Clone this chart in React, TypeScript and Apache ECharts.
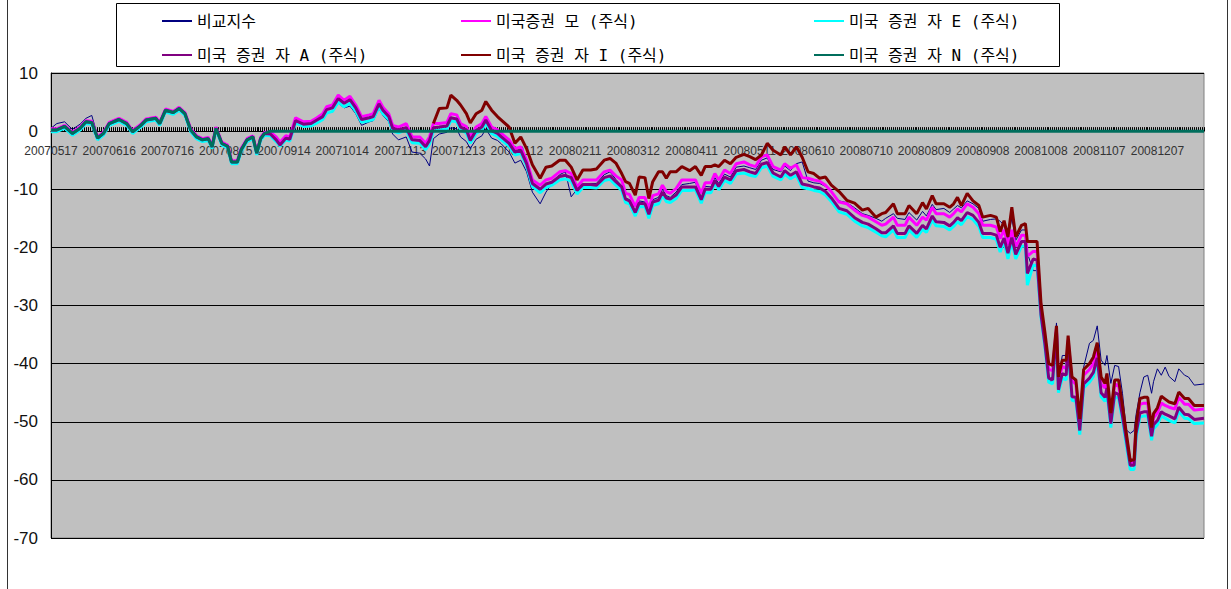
import React, { useEffect, useRef } from "react";
import * as echarts from "echarts";

// ---- categories: calendar days from 2007-05-17 (595 days, label every 30) ----
const startYMD = [2007, 5, 17];
const dayCount = 595;
const labelEvery = 30;

// ---- series names ----
const nameB = "비교지수";
const nameM = "미국증권 모 (주식)";
const nameE = "미국 증권 자 E (주식)";
const nameA = "미국 증권 자 A (주식)";
const nameI = "미국 증권 자 I (주식)";
const nameN = "미국 증권 자 N (주식)";

// ---- sample days (index of calendar day) ----
const days = [
  0, 3, 7, 11, 15, 18, 21, 24, 27, 30,
  35, 39, 42, 46, 49, 54, 56, 59, 63, 66,
  69, 72, 75, 78, 81, 83, 85, 88, 91, 93,
  96, 98, 101, 104, 106, 108, 110,
  113, 116, 118, 121, 123, 126, 130, 134, 137, 140,
  142, 145, 148, 151, 154, 157, 160, 164, 166, 169,
  171, 174, 176, 179, 183, 186, 190, 193, 195, 197,
  200, 204, 206, 209, 211, 214, 216, 219, 222, 224,
  227, 230, 232, 236, 239, 242, 245, 248, 252, 255,
  258, 262, 265, 268, 271, 274, 278, 281, 285, 288,
  291, 294, 296, 298, 301, 303, 306, 308, 310, 313,
  315, 317, 319, 322, 325, 329, 332, 335, 337, 340,
  342, 344, 347, 350, 353, 357, 360, 363, 366, 369,
  372, 376, 378, 381, 384, 387, 390, 393, 396, 399,
  402, 406, 410, 414, 418, 421, 425, 428, 430, 434,
  436, 440, 442, 446, 449, 451, 454, 456, 460, 463,
  465, 467, 469, 472, 475, 478, 480, 484, 487, 489,
  491, 493, 495, 497, 500, 502, 503, 506, 508, 510,
  512, 514, 516, 518, 519, 521, 523, 524, 526, 528,
  530, 532, 535, 537, 539, 541, 543, 544, 546, 548,
  550, 552, 554, 556, 558, 559, 561, 563, 565, 567,
  568, 570, 572, 574, 576, 579, 581, 584, 586, 589,
  594,
];

const valuesB = [
  0.5, 1.3, 1.6, 0.3, 1.2, 2.2, 2.7, -0.8, -0.3, 1.2,
  2.0, 1.2, 0, 0.8, 1.8, 2.1, 1.2, 3.5, 3.1, 3.8,
  2.9, 0.1, -1.0, -1.6, -1.3, -2.9, 0.3, -2.3, -2.8, -5.6,
  -5.6, -3.3, -1.6, -1.1, -4.0, -1.4, -0.6,
  -0.8, -1.5, -2.2, -1.3, -1.6, 1.3, 0.9, 1.0, 1.6, 2.1,
  3.1, 3.3, 4.8, 4.0, 4.3, 3.0, 1.0, 1.6, 1.8, 3.9,
  2.7, 1.6, -0.5, -1.5, -1.0, -3.6, -3.8, -4.8, -6.0, -1.3,
  -0.5, -0.2, 0.6, 0.4, -1.0, -1.8, -3.0, -1.4, -0.8, 0.4,
  -1.2, -1.6, -2.2, -3.6, -5.5, -5.0, -7.0, -10.5, -12.5, -10.5,
  -9.0, -7.5, -7.0, -11.3, -10.0, -9.2, -9.0, -9.0, -7.5, -7.0,
  -8.3, -9.4, -11.5, -11.8, -13.8, -12.0, -12.2, -14.0, -11.8, -11.4,
  -10.0, -11.1, -11.4, -10.5, -9.2, -9.0, -8.8, -11.5, -9.5, -9.6,
  -8.0, -9.0, -7.4, -7.9, -6.2, -6.0, -6.3, -6.6, -5.0, -4.6,
  -6.6, -7.0, -6.0, -6.8, -5.6, -5.3, -8.6, -8.9, -9.0, -9.5,
  -10.5, -12.0, -12.3, -13.2, -14.2, -14.5, -15.0, -15.5, -15.0, -14.2,
  -15.0, -15.2, -14.0, -15.3, -13.8, -14.6, -12.6, -13.5, -13.3, -14.0,
  -13.4, -12.8, -13.2, -12.0, -12.5, -13.3, -15.5, -15.2, -15.1, -15.5,
  -16.2, -18.5, -15.0, -18.8, -17.0, -17.0, -21.0, -24.0, -24.0, -32.0,
  -36.5, -43.0, -43.0, -33.0, -42.5, -38.6, -38.6, -36.0, -42.3, -43.2,
  -48.5, -40.6, -36.5, -36.0, -33.5, -39.4, -40.3, -38.6, -43.4, -40.3,
  -40.5, -45.1, -51.4, -52.0, -51.5, -48.8, -45.0, -42.3, -42.0, -45.1,
  -43.1, -40.9, -42.0, -40.6, -42.2, -43.1, -40.9, -42.0, -42.3, -43.7,
  -43.5,
];

const valuesM = [
  0.4, 0.4, 1.0, -0.2, 0.7, 1.8, 1.7, -1.0, -0.2, 1.5,
  2.2, 1.5, 0.1, 1.1, 2.1, 2.4, 1.5, 3.8, 3.4, 4.1,
  3.2, 0.4, -0.8, -1.3, -1.1, -2.5, 0.7, -1.9, -2.4, -5.1,
  -5.1, -3.0, -1.3, -0.8, -3.6, -1.1, -0.2,
  -0.2, -1.0, -1.9, -0.8, -1.0, 2.3, 1.6, 1.7, 2.3, 3.0,
  4.2, 4.5, 6.2, 5.3, 6.0, 4.5, 2.5, 2.8, 3.0, 5.3,
  4.1, 3.0, 1.0, 0.7, 1.3, -1.0, -1.0, -2.1, -1.0, 1.3,
  1.3, 1.5, 3.0, 2.8, 1.3, 0.8, -1.0, 0.7, 1.3, 2.5,
  0.7, 0.2, -0.4, -1.5, -3.0, -2.7, -5.0, -8.4, -9.3, -8.4,
  -8.1, -7.0, -6.8, -7.3, -9.6, -8.4, -8.4, -8.4, -7.0, -6.7,
  -7.7, -8.4, -10.7, -10.9, -13.0, -11.4, -11.4, -13.3, -11.1, -10.8,
  -9.3, -10.4, -10.7, -9.9, -8.4, -8.4, -8.4, -10.7, -8.9, -8.9,
  -7.3, -8.4, -6.7, -7.3, -5.6, -5.3, -5.8, -6.1, -4.4, -4.1,
  -6.1, -6.7, -5.6, -6.4, -5.8, -8.0, -8.1, -8.4, -8.6, -9.3,
  -10.4, -12.2, -12.5, -13.6, -14.5, -14.8, -15.6, -16.2, -16.0, -14.8,
  -16.2, -16.2, -14.8, -16.2, -14.8, -15.3, -13.1, -14.2, -14.2, -14.8,
  -14.2, -13.4, -13.9, -12.5, -13.1, -14.2, -16.2, -16.2, -16.5, -18.5,
  -17.0, -19.6, -17.0, -19.9, -17.9, -17.9, -21.5, -20.7, -20.7, -30.5,
  -35.5, -41.0, -41.2, -34.0, -43.0, -40.5, -40.8, -36.0, -43.0, -43.5,
  -50.5, -42.0, -41.0, -40.0, -37.5, -43.5, -44.2, -42.8, -49.5, -43.5,
  -43.8, -48.0, -52.5, -57.0, -57.0, -51.0, -47.0, -46.8, -46.8, -52.0,
  -49.3, -48.5, -46.8, -47.2, -47.5, -47.8, -45.8, -47.0, -47.0, -48.0,
  -47.8,
];

const valuesE = [
  -0.1, -0.1, 0.5, -0.7, 0.2, 1.3, 1.2, -1.5, -0.7, 1.0,
  1.7, 1.0, -0.4, 0.6, 1.6, 1.9, 1.0, 3.3, 2.9, 3.6,
  2.7, -0.1, -1.3, -1.8, -1.6, -3.0, 0.2, -2.4, -2.9, -5.6,
  -5.6, -3.5, -1.8, -1.3, -4.1, -1.6, -0.7,
  -0.8, -1.8, -2.6, -1.5, -1.7, 1.4, 0.8, 0.9, 1.4, 2.0,
  3.1, 3.4, 5.0, 4.2, 4.8, 3.4, 1.5, 1.8, 2.0, 4.2,
  3.0, 2.0, 0.0, -0.3, 0.2, -2.0, -2.1, -3.2, -2.2, 0.0,
  0.2, 0.4, 1.8, 1.6, 0.2, -0.3, -2.1, -0.4, 0.2, 1.4,
  -0.4, -0.9, -1.5, -2.6, -4.1, -3.8, -6.0, -9.5, -10.6, -9.7,
  -9.3, -8.4, -8.2, -8.6, -10.8, -9.7, -9.7, -9.8, -8.5, -8.3,
  -9.3, -10.2, -12.3, -12.5, -14.6, -13.0, -13.0, -15.0, -12.8, -12.5,
  -11.0, -12.1, -12.3, -11.6, -10.2, -10.2, -10.1, -12.4, -10.6, -10.6,
  -9.0, -10.1, -8.5, -9.0, -7.4, -7.2, -7.6, -7.8, -6.3, -6.0,
  -7.8, -8.4, -7.4, -8.2, -7.6, -9.7, -9.9, -10.2, -10.4, -11.0,
  -12.1, -13.9, -14.3, -15.5, -16.3, -16.6, -17.4, -18.0, -18.2, -17.0,
  -18.3, -18.3, -17.0, -18.3, -16.9, -17.4, -15.3, -16.3, -16.4, -17.0,
  -16.4, -15.6, -16.1, -14.7, -15.2, -16.4, -18.3, -18.3, -18.6, -20.8,
  -19.0, -22.0, -19.0, -22.0, -19.8, -19.8, -26.5, -23.0, -23.2, -32.0,
  -37.0, -43.2, -43.5, -35.0, -45.0, -42.5, -42.8, -37.0, -46.3, -46.5,
  -52.2, -44.2, -43.2, -42.2, -39.5, -45.7, -46.5, -45.0, -51.0, -45.7,
  -46.0, -49.7, -54.0, -58.2, -58.2, -52.8, -49.2, -49.0, -49.0, -53.2,
  -51.2, -50.5, -49.0, -49.4, -49.8, -50.2, -48.2, -49.4, -49.5, -50.3,
  -50.2,
];

const valuesA = [
  0.2, 0.2, 0.8, -0.4, 0.5, 1.6, 1.5, -1.2, -0.4, 1.3,
  2.0, 1.3, -0.1, 0.9, 1.9, 2.2, 1.3, 3.6, 3.2, 3.9,
  3.0, 0.2, -1.0, -1.5, -1.3, -2.7, 0.5, -2.1, -2.6, -5.3,
  -5.3, -3.2, -1.5, -1.0, -3.8, -1.3, -0.4,
  -0.5, -1.5, -2.4, -1.2, -1.4, 1.8, 1.2, 1.3, 1.9, 2.5,
  3.7, 4.0, 5.6, 4.8, 5.4, 4.0, 2.0, 2.3, 2.5, 4.7,
  3.6, 2.5, 0.5, 0.2, 0.6, -1.5, -1.6, -2.7, -1.6, 0.6,
  0.7, 0.9, 2.3, 2.1, 0.7, 0.2, -1.6, 0.1, 0.7, 1.9,
  0.1, -0.4, -1.0, -2.1, -3.6, -3.3, -5.6, -9.0, -10.0, -9.1,
  -8.8, -7.8, -7.6, -8.0, -10.2, -9.2, -9.2, -9.3, -8.0, -7.7,
  -8.7, -9.6, -11.7, -12.0, -14.0, -12.4, -12.5, -14.3, -12.2, -11.9,
  -10.5, -11.5, -11.7, -11.0, -9.6, -9.6, -9.6, -11.8, -10.0, -10.0,
  -8.5, -9.5, -7.9, -8.4, -6.8, -6.6, -7.0, -7.3, -5.7, -5.4,
  -7.2, -7.9, -6.8, -7.6, -7.0, -9.1, -9.3, -9.6, -9.8, -10.4,
  -11.5, -13.3, -13.7, -14.9, -15.7, -16.0, -16.8, -17.5, -17.5, -16.3,
  -17.6, -17.6, -16.3, -17.6, -16.2, -16.8, -14.6, -15.6, -15.7, -16.3,
  -15.7, -14.9, -15.4, -14.0, -14.5, -15.7, -17.6, -17.6, -17.9, -20.0,
  -18.4, -21.0, -18.3, -21.2, -19.0, -19.0, -24.5, -22.0, -22.2, -31.5,
  -36.5, -42.5, -42.8, -34.5, -44.5, -41.7, -42.0, -36.5, -45.7, -45.8,
  -51.5, -43.5, -42.5, -41.5, -39.0, -45.0, -45.8, -44.2, -50.3, -45.0,
  -45.3, -49.0, -53.2, -57.5, -57.5, -52.0, -48.5, -48.3, -48.3, -52.5,
  -50.5, -49.8, -48.3, -48.7, -49.0, -49.5, -47.5, -48.7, -48.8, -49.6,
  -49.4,
];

// I starts on day 197
const daysI = [
  197,
  200, 204, 206, 209, 211, 214, 216, 219, 222, 224,
  227, 230, 232, 236, 239, 242, 245, 248, 252, 255,
  258, 262, 265, 268, 271, 274, 278, 281, 285, 288,
  291, 294, 296, 298, 301, 303, 306, 308, 310, 313,
  315, 317, 319, 322, 325, 329, 332, 335, 337, 340,
  342, 344, 347, 350, 353, 357, 360, 363, 366, 369,
  372, 376, 378, 381, 384, 387, 390, 393, 396, 399,
  402, 406, 410, 414, 418, 421, 425, 428, 430, 434,
  436, 440, 442, 446, 449, 451, 454, 456, 460, 463,
  465, 467, 469, 472, 475, 478, 480, 484, 487, 489,
  491, 493, 495, 497, 500, 502, 503, 506, 508, 510,
  512, 514, 516, 518, 519, 521, 523, 524, 526, 528,
  530, 532, 535, 537, 539, 541, 543, 544, 546, 548,
  550, 552, 554, 556, 558, 559, 561, 563, 565, 567,
  568, 570, 572, 574, 576, 579, 581, 584, 586, 589,
  594,
];
const valuesI = [
  1.3,
  3.9, 4.0, 6.2, 5.3, 4.5, 3.0, 1.4, 3.0, 3.6, 5.1,
  3.6, 2.5, 1.9, 0.7, -2.1, -1.0, -3.0, -5.8, -8.1, -6.2,
  -6.0, -5.0, -5.0, -6.2, -8.4, -6.7, -6.7, -6.5, -5.0, -4.7,
  -5.5, -7.3, -8.7, -9.0, -11.0, -7.9, -8.0, -11.6, -8.7, -7.0,
  -7.0, -8.1, -7.0, -7.0, -6.1, -6.8, -6.1, -7.6, -6.1, -6.1,
  -5.8, -6.1, -5.0, -5.6, -4.5, -4.0, -4.4, -4.9, -4.1, -2.1,
  -3.3, -4.1, -2.7, -4.1, -2.7, -4.5, -7.0, -7.3, -8.1, -7.9,
  -9.3, -10.4, -11.9, -12.4, -13.6, -13.3, -14.8, -14.2, -14.0, -12.5,
  -14.2, -14.2, -12.8, -14.2, -12.3, -13.4, -11.1, -12.5, -12.5, -13.1,
  -12.5, -11.4, -12.8, -10.7, -12.0, -12.8, -14.8, -14.5, -14.8, -17.3,
  -15.4, -18.2, -13.1, -18.2, -16.2, -15.9, -19.0, -19.0, -19.0, -29.5,
  -34.5, -40.0, -40.3, -33.5, -42.3, -39.4, -39.4, -35.2, -42.3, -42.8,
  -49.5, -41.0, -40.0, -38.9, -36.4, -42.3, -43.4, -41.7, -48.5, -42.8,
  -42.8, -47.2, -52.0, -56.7, -56.5, -50.5, -46.0, -45.8, -45.8, -51.0,
  -48.6, -47.6, -45.6, -46.1, -46.6, -46.9, -44.9, -46.0, -46.0, -47.2,
  -47.2,
];

// N follows the others until day 110, then stays at 0
const daysN = [
  0, 3, 7, 11, 15, 18, 21, 24, 27, 30,
  35, 39, 42, 46, 49, 54, 56, 59, 63, 66,
  69, 72, 75, 78, 81, 83, 85, 88, 91, 93,
  96, 98, 101, 104, 106, 108, 110, 113, 594,
];
const valuesN = [
  0.2, 0.2, 0.8, -0.4, 0.5, 1.6, 1.5, -1.2, -0.4, 1.3,
  2.0, 1.3, -0.1, 0.9, 1.9, 2.2, 1.3, 3.6, 3.2, 3.9,
  3.0, 0.2, -1.0, -1.5, -1.3, -2.7, 0.5, -2.1, -2.6, -5.3,
  -5.3, -3.2, -1.5, -1.0, -3.8, -1.3, -0.4, 0, 0,
];

const yMin = -70;
const yMax = 10;
const yStep = 10;

function buildCategories(): string[] {
  const out: string[] = [];
  const t0 = Date.UTC(startYMD[0], startYMD[1] - 1, startYMD[2]);
  for (let i = 0; i < dayCount; i++) {
    const d = new Date(t0 + i * 86400000);
    const y = d.getUTCFullYear();
    const m = String(d.getUTCMonth() + 1).padStart(2, "0");
    const dd = String(d.getUTCDate()).padStart(2, "0");
    out.push(`${y}${m}${dd}`);
  }
  return out;
}

function pairs(xs: number[], ys: number[]) {
  return xs.map((x, i) => [x, ys[i]]);
}

const W = 1231;
const H = 589;
const gridLeft = 51;
const gridRight = 27;
const gridTop = 73;
const gridBottom = 51;

export default function App() {
  const ref = useRef<HTMLDivElement>(null);
  useEffect(() => {
    if (!ref.current) return;
    const chart = echarts.init(ref.current, null, { renderer: "svg" });
    const categories = buildCategories();
    const plotH = H - gridTop - gridBottom;
    // distance from the grid bottom up to the zero line
    const zeroOffset = -(plotH * (0 - yMin)) / (yMax - yMin);
    const legendText = {
      fontFamily: "'DejaVu Sans Mono', 'Noto Sans CJK KR', monospace",
      fontSize: 16,
      color: "#000",
    };
    const legendBase = {
      orient: "vertical",
      top: 13,
      itemWidth: 30,
      itemHeight: 14,
      itemGap: 18,
      selectedMode: false,
      textStyle: legendText,
      padding: 0,
      itemStyle: { opacity: 0 },
    };
    const mk = (name: string, data: any[], color: string, width: number) => ({
      name,
      type: "line",
      data,
      symbol: "none",
      lineStyle: { color, width },
      itemStyle: { color },
      emphasis: { disabled: true },
    });
    chart.setOption({
      animation: false,
      backgroundColor: "#fff",
      graphic: [
        {
          type: "rect",
          z: 0,
          shape: { x: 7.5, y: -2, width: 1220, height: 600 },
          style: { fill: "transparent", stroke: "#333", lineWidth: 1 },
        },
        {
          type: "rect",
          z: 0,
          shape: { x: 116.5, y: 3.5, width: 943, height: 63 },
          style: { fill: "#fff", stroke: "#000", lineWidth: 1 },
        },
      ],
      legend: [
        { ...legendBase, left: 161, data: [nameB, nameA] },
        { ...legendBase, left: 460, data: [nameM, nameI] },
        { ...legendBase, left: 813, data: [nameE, nameN] },
      ],
      grid: {
        left: gridLeft,
        right: gridRight,
        top: gridTop,
        bottom: gridBottom,
        show: true,
        backgroundColor: "#C0C0C0",
        borderColor: "#808080",
        borderWidth: 1,
      },
      xAxis: {
        type: "category",
        data: categories,
        boundaryGap: false,
        offset: zeroOffset,
        axisLine: { onZero: false, lineStyle: { color: "#000", width: 1 } },
        axisTick: {
          show: true,
          interval: 0,
          inside: true,
          length: 4,
          lineStyle: { color: "#000", width: 1 },
        },
        axisLabel: {
          interval: (index: number) => index % labelEvery === 0,
          margin: 14,
          fontSize: 12,
          color: "#333",
          fontFamily: "'Liberation Sans', Arial, sans-serif",
        },
        splitLine: { show: false },
      },
      yAxis: {
        type: "value",
        min: yMin,
        max: yMax,
        interval: yStep,
        axisLine: { show: true, lineStyle: { color: "#000", width: 1 } },
        axisTick: { show: true, inside: true, length: 5, lineStyle: { color: "#000" } },
        axisLabel: {
          fontSize: 17,
          margin: 13,
          color: "#111",
          fontFamily: "'Liberation Sans', Arial, sans-serif",
        },
        splitLine: { show: true, lineStyle: { color: "#000", width: 1 } },
      },
      series: [
        mk(nameB, pairs(days, valuesB), "#000080", 1),
        mk(nameM, pairs(days, valuesM), "#FF00FF", 3),
        mk(nameE, pairs(days, valuesE), "#00FFFF", 3),
        mk(nameA, pairs(days, valuesA), "#800080", 3),
        mk(nameI, pairs(daysI, valuesI), "#800000", 3),
        mk(nameN, pairs(daysN, valuesN), "#006E5C", 3),
      ],
    });
    return () => chart.dispose();
  }, []);
  return (
    <div
      ref={ref}
      style={{ position: "fixed", left: 0, top: 0, width: W, height: H }}
    />
  );
}
